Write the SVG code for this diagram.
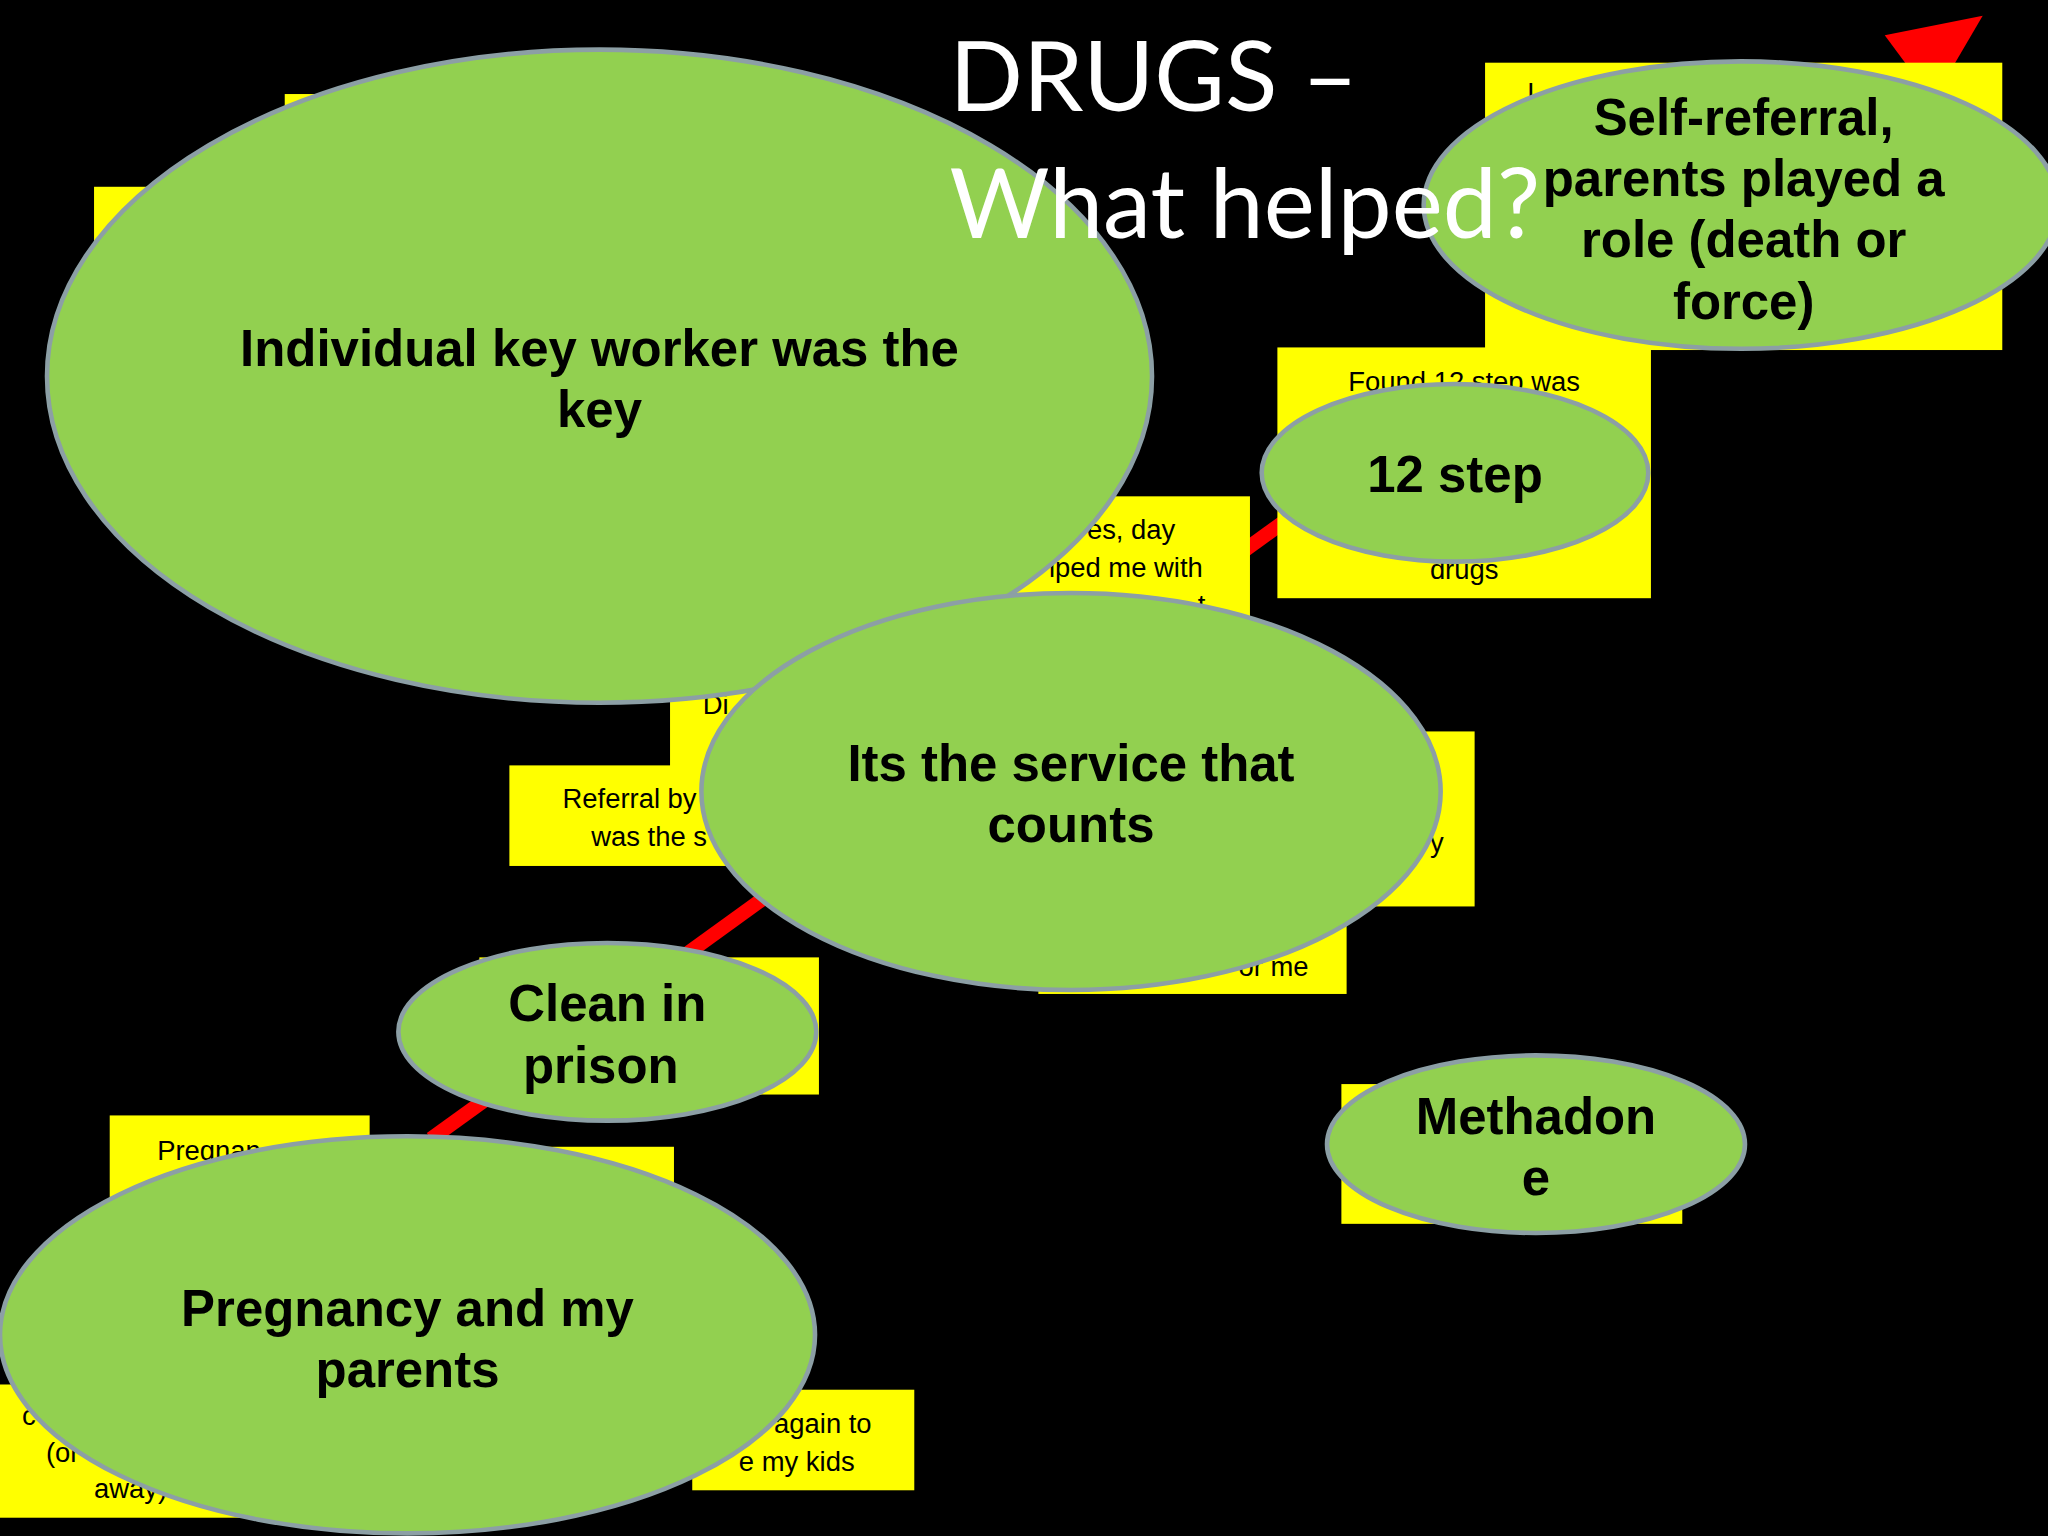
<svg xmlns="http://www.w3.org/2000/svg" width="2048" height="1536" viewBox="0 0 2048 1536">
<style>
.box{fill:#ffff00}
.bt{font-family:"Liberation Sans",Arial,sans-serif;font-size:21px;fill:#000;text-anchor:middle}
.el{fill:#92d050;stroke:#8c9fa5;stroke-width:3.5}
.et{font-family:"Liberation Sans",Arial,sans-serif;font-weight:bold;font-size:39px;fill:#000;text-anchor:middle}
.title{font-family:Lato,"Open Sans",sans-serif;font-weight:normal;font-size:74px;fill:#fff}
</style>
<rect width="2048" height="1536" fill="#000"/>
<g transform="scale(1.306122)">
<g id="connectors">
<line x1="330" y1="872" x2="1466" y2="50" stroke="#ff0000" stroke-width="11"/>
<polygon points="1518,12 1480,77 1443,27" fill="#ff0000"/>
</g>
<g id="boxes">
<rect class="box" x="218" y="72" width="200" height="120"/>
<rect class="box" x="72" y="143" width="200" height="120"/>
<rect class="box" x="1137" y="48" width="396" height="220"/>
<text class="bt" x="1172" y="78">I</text>
<rect class="box" x="978" y="266" width="286" height="192"/>
<text class="bt" x="1121" y="299">Found 12 step was</text>
<text class="bt" x="1200" y="416">t</text>
<text class="bt" x="1121" y="443">drugs</text>
<rect class="box" x="770" y="380" width="187" height="100"/>
<text class="bt" x="866" y="413">es, day</text>
<text class="bt" x="862" y="442">lped me with</text>
<text class="bt" x="920" y="470">t</text>
<rect class="box" x="513" y="470" width="120" height="120"/>
<text class="bt" x="548" y="547">Di</text>
<rect class="box" x="390" y="586" width="175" height="77"/>
<text class="bt" x="482" y="619">Referral by</text>
<text class="bt" x="497" y="648">was the s</text>
<rect class="box" x="990" y="560" width="139" height="134"/>
<text class="bt" x="1100" y="652">y</text>
<rect class="box" x="795" y="690" width="236" height="71"/>
<text class="bt" x="975" y="747">or me</text>
<rect class="box" x="367" y="733" width="260" height="105"/>
<rect class="box" x="84" y="854" width="199" height="80"/>
<text class="bt" x="160" y="888">Pregnan</text>
<rect class="box" x="330" y="878" width="186" height="60"/>
<rect class="box" x="0" y="1060" width="200" height="102"/>
<text class="bt" x="22" y="1091">c</text>
<text class="bt" x="48" y="1119">(or</text>
<text class="bt" x="100" y="1147">away)</text>
<rect class="box" x="530" y="1064" width="170" height="77"/>
<text class="bt" x="630" y="1097">again to</text>
<text class="bt" x="610" y="1126">e my kids</text>
<rect class="box" x="1027" y="830" width="261" height="107"/>
</g>
<g id="n-key"><ellipse class="el" cx="459" cy="288" rx="423" ry="250"/>
<text class="et" x="459" y="280">Individual key worker was the</text><text class="et" x="459" y="327">key</text></g>
<g id="n-self"><ellipse class="el" cx="1333" cy="157" rx="243" ry="110"/>
<text class="et" x="1335" y="103">Self-referral,</text><text class="et" x="1335" y="150">parents played a</text><text class="et" x="1335" y="197">role (death or</text><text class="et" x="1335" y="244">force)</text></g>
<g id="n-12"><ellipse class="el" cx="1114" cy="362" rx="148" ry="68"/>
<text class="et" x="1114" y="377">12 step</text></g>
<g id="n-service"><ellipse class="el" cx="820" cy="606" rx="283" ry="152"/>
<text class="et" x="820" y="598">Its the service that</text><text class="et" x="820" y="645">counts</text></g>
<g id="n-prison"><ellipse class="el" cx="465" cy="790" rx="160" ry="68"/>
<text class="et" x="465" y="782">Clean in</text><text class="et" x="460" y="829">prison</text></g>
<g id="n-preg"><ellipse class="el" cx="312" cy="1022" rx="312" ry="152"/>
<text class="et" x="312" y="1015">Pregnancy and my</text><text class="et" x="312" y="1062">parents</text></g>
<g id="n-meth"><ellipse class="el" cx="1176" cy="876" rx="160" ry="68"/>
<text class="et" x="1176" y="868">Methadon</text><text class="et" x="1176" y="915">e</text></g>
<g id="title">
<text class="title" x="727" y="85">DRUGS –</text>
<text class="title" x="727" y="182">What helped?</text>
</g>
</g>
</svg>
